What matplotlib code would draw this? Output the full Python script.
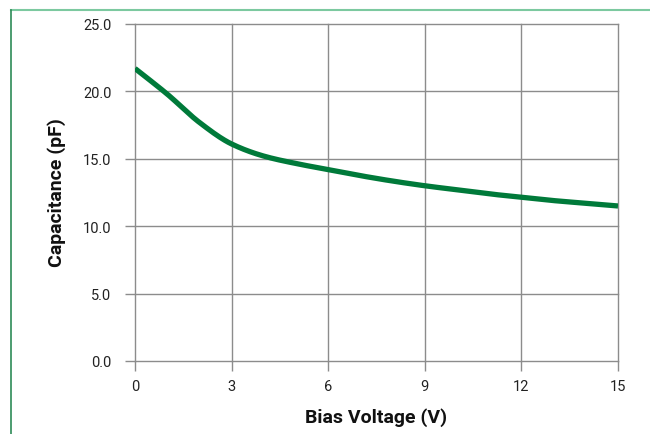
import matplotlib
matplotlib.use("Agg")
import matplotlib.pyplot as plt
from matplotlib.lines import Line2D
import numpy as np

voltage = [0, 1, 2, 3, 4, 5, 6, 7, 8, 9, 10, 11, 12, 13, 14, 15]
capacitance = [21.7, 19.8, 17.7, 16.1, 15.2, 14.65, 14.2, 13.75, 13.35, 13.0, 12.7, 12.4, 12.15, 11.9, 11.7, 11.5]
x_ticks = [0, 3, 6, 9, 12, 15]
y_ticks = [0.0, 5.0, 10.0, 15.0, 20.0, 25.0]

plt.rcParams['font.family'] = ['Roboto', 'DejaVu Sans']

# smooth curve through points (monotone cubic)
def pchip(x, y, xs):
    x = np.asarray(x, float); y = np.asarray(y, float)
    h = np.diff(x); d = np.diff(y) / h
    m = np.zeros_like(y)
    for i in range(1, len(y) - 1):
        if d[i-1] * d[i] > 0:
            w1 = 2*h[i] + h[i-1]; w2 = h[i] + 2*h[i-1]
            m[i] = (w1 + w2) / (w1/d[i-1] + w2/d[i])
    m[0] = d[0]; m[-1] = d[-1]
    out = np.empty_like(xs)
    for j, xv in enumerate(xs):
        i = min(np.searchsorted(x, xv) - 1, len(x) - 2); i = max(i, 0)
        t = (xv - x[i]) / h[i]
        h00 = 2*t**3 - 3*t**2 + 1; h10 = t**3 - 2*t**2 + t
        h01 = -2*t**3 + 3*t**2; h11 = t**3 - t**2
        out[j] = h00*y[i] + h10*h[i]*m[i] + h01*y[i+1] + h11*h[i]*m[i+1]
    return out

xs = np.linspace(voltage[0], voltage[-1], 400)
ys = pchip(voltage, capacitance, xs)

fig = plt.figure(figsize=(6.5, 4.35), dpi=100)
ax = fig.add_axes([135/650, 1 - 362/435, (618-135)/650, (362-25)/435])

ax.plot(xs, ys, color="#007a3a", lw=3.8, solid_capstyle="butt", zorder=3)

ax.set_xlim(0, 15)
ax.set_ylim(0, 25)
ax.set_xticks(x_ticks)
ax.set_xticklabels([str(v) for v in x_ticks])
ax.set_yticks(y_ticks)
ax.set_yticklabels([f"{v:.1f}" for v in y_ticks])
ax.grid(True, color="#8c8c8c", lw=1.0)
for gl in ax.get_xgridlines() + ax.get_ygridlines():
    gl.set_clip_on(False)
ax.set_axisbelow(True)
for s in ax.spines.values():
    s.set_visible(False)
ax.tick_params(axis='both', length=7, color="#8c8c8c", width=1.0, labelsize=10.5, labelcolor="#222222")
ax.tick_params(axis='y', pad=10)
ax.tick_params(axis='x', pad=6)

fig.text(376/650, 1 - 418/435, "Bias Voltage (V)", ha="center", va="center",
         fontsize=14, fontweight="bold", color="#111111")
fig.text(57/650, 1 - 193/435, "Capacitance (pF)", ha="center", va="center",
         rotation=90, fontsize=14, fontweight="bold", color="#111111")

fig.add_artist(Line2D([11/650, 1], [1 - 11/435, 1 - 11/435], transform=fig.transFigure,
                      color="#7cc9a0", lw=1.5))
fig.add_artist(Line2D([11/650, 11/650], [1 - 11/435, 0], transform=fig.transFigure,
                      color="#2e8b57", lw=1.2))

fig.savefig("out.png", dpi=100)
